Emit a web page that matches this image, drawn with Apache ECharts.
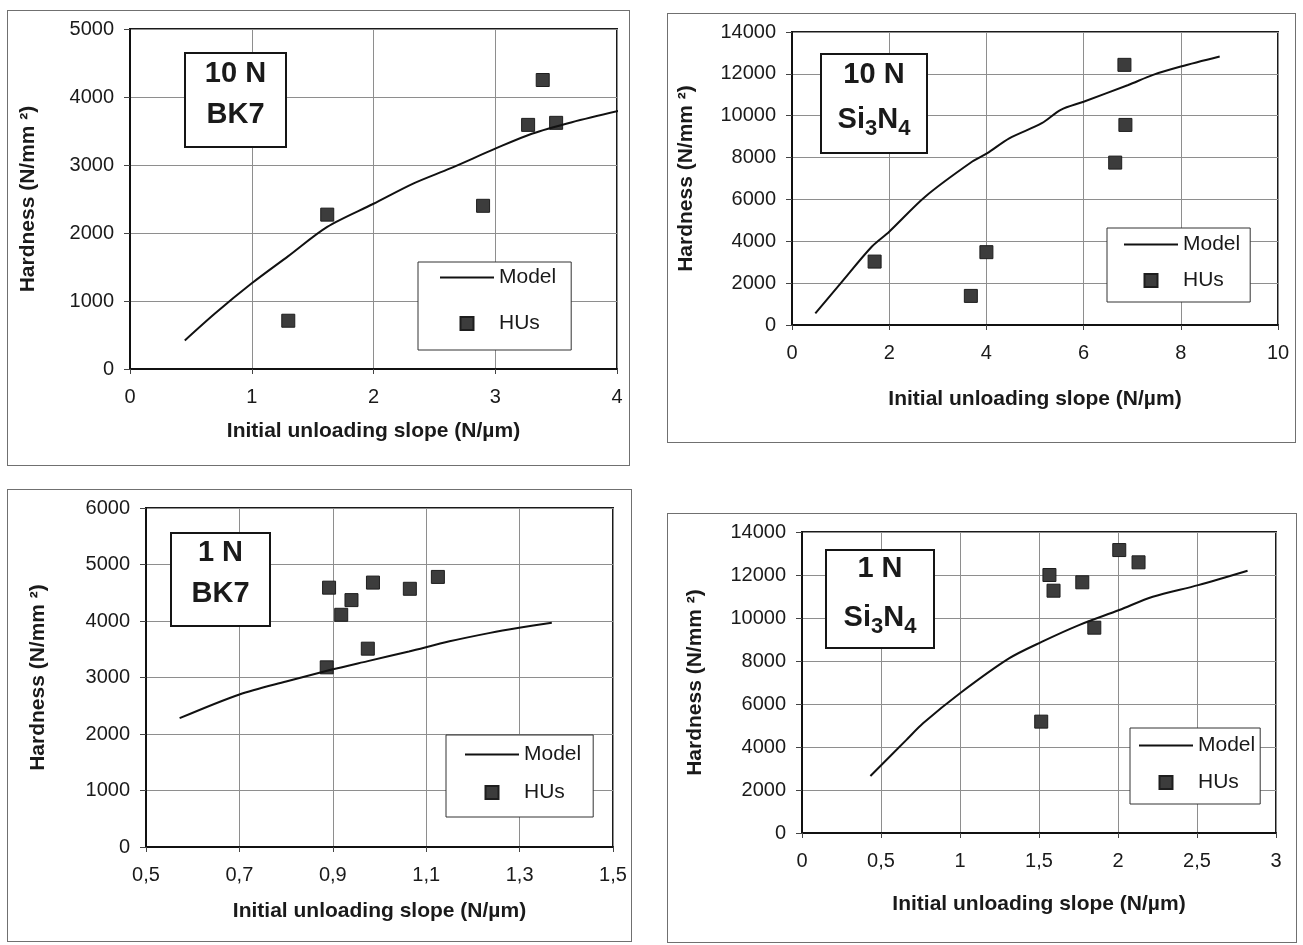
<!DOCTYPE html>
<html>
<head>
<meta charset="utf-8">
<script src="https://cdn.jsdelivr.net/npm/echarts@6/dist/echarts.min.js"></script>
<style>
  body { margin: 0; background: #fff; width: 1303px; height: 945px; position: relative; overflow: hidden; }
  .panel { position: absolute; border: 1px solid #707070; box-sizing: border-box; }
</style>
</head>
<body>
<div id="c1" class="panel" style="left:7px;top:10px;width:623px;height:456px"></div>
<div id="c2" class="panel" style="left:667px;top:13px;width:629px;height:430px"></div>
<div id="c3" class="panel" style="left:7px;top:489px;width:625px;height:453px"></div>
<div id="c4" class="panel" style="left:667px;top:513px;width:630px;height:430px"></div>
<script>
// 10 N, BK7
const bk7TenModel = [[0.45, 420], [0.7, 820], [1.0, 1260], [1.3, 1660], [1.62, 2090], [2.0, 2430], [2.33, 2730], [2.63, 2950], [3.0, 3240], [3.3, 3460], [3.63, 3630], [4.07, 3820]];
const bk7TenHUs = [[1.3, 710], [1.62, 2270], [2.9, 2400], [3.27, 3590], [3.39, 4250], [3.5, 3620]];
const bk7TenXTicks = [0, 1, 2, 3, 4];
const bk7TenYTicks = [0, 1000, 2000, 3000, 4000, 5000];

// 10 N, Si3N4
const siTenModel = [[0.48, 560], [1.0, 1990], [1.64, 3740], [2.0, 4460], [2.74, 6130], [3.71, 7810], [4.02, 8210], [4.47, 8920], [5.14, 9640], [5.53, 10280], [6.0, 10670], [6.92, 11470], [7.43, 11950], [8.0, 12350], [8.8, 12830]];
const siTenHUs = [[1.7, 3030], [3.68, 1390], [4.0, 3480], [6.65, 7760], [6.86, 9560], [6.84, 12430]];
const siTenXTicks = [0, 2, 4, 6, 8, 10];
const siTenYTicks = [0, 2000, 4000, 6000, 8000, 10000, 12000, 14000];

// 1 N, BK7
const bk7OneModel = [[0.572, 2280], [0.7, 2700], [0.8, 2930], [0.898, 3140], [0.975, 3290], [1.063, 3460], [1.15, 3640], [1.237, 3790], [1.299, 3880], [1.369, 3970]];
const bk7OneHUs = [[0.892, 4590], [0.918, 4110], [0.94, 4370], [0.986, 4680], [1.065, 4570], [1.125, 4780], [0.975, 3510], [0.887, 3180]];
const bk7OneXTicks = [0.5, 0.7, 0.9, 1.1, 1.3, 1.5];
const bk7OneYTicks = [0, 1000, 2000, 3000, 4000, 5000, 6000];

// 1 N, Si3N4
const siOneModel = [[0.433, 2650], [0.661, 4330], [0.766, 5100], [1.0, 6500], [1.31, 8120], [1.52, 8900], [1.753, 9670], [2.008, 10370], [2.22, 10990], [2.508, 11530], [2.82, 12200]];
const siOneHUs = [[1.514, 5180], [1.566, 12000], [1.592, 11270], [1.774, 11660], [1.85, 9550], [2.008, 13160], [2.13, 12590]];
const siOneXTicks = [0, 0.5, 1, 1.5, 2, 2.5, 3];
const siOneYTicks = [0, 2000, 4000, 6000, 8000, 10000, 12000, 14000];

const FONT = 'Liberation Sans, Arial, sans-serif';
const X_NAME = 'Initial unloading slope (N/µm)';
const Y_NAME = 'Hardness (N/mm ²)';
const SQUARE = 'path://M0,0H10V10H0Z';
const DASH = 'path://M0,0H54V2H0Z';

function decimalComma(v) {
    return String(+v.toFixed(6)).replace('.', ',');
}

function axisFromTicks(ticks) {
    return {
        min: ticks[0],
        max: ticks[ticks.length - 1],
        interval: +(ticks[1] - ticks[0]).toFixed(6)
    };
}

function titleBox(box, line1, line2Rich) {
    let second = line2Rich
        ? {
            type: 'text', x: box.w / 2, y: box.y2, z: 101,
            style: {
                text: '{a|Si}{b|3}{a|N}{b|4}',
                align: 'center', verticalAlign: 'middle', fill: '#1a1a1a',
                rich: {
                    a: { fontFamily: FONT, fontWeight: 'bold', fontSize: 29, lineHeight: 40, verticalAlign: 'middle', fill: '#1a1a1a' },
                    b: { fontFamily: FONT, fontWeight: 'bold', fontSize: 22, lineHeight: 22, verticalAlign: 'bottom', fill: '#1a1a1a' }
                }
            }
        }
        : {
            type: 'text', x: box.w / 2, y: box.y2, z: 101,
            style: { text: 'BK7', font: 'bold 29px ' + FONT, align: 'center', verticalAlign: 'middle', fill: '#1a1a1a' }
        };
    return {
        type: 'group', left: box.left, top: box.top, z: 100,
        children: [
            { type: 'rect', z: 100, shape: { x: 0, y: 0, width: box.w, height: box.h }, style: { fill: '#fff', stroke: '#151515', lineWidth: 2 } },
            { type: 'text', z: 101, x: box.w / 2, y: box.y1, style: { text: line1, font: 'bold 29px ' + FONT, align: 'center', verticalAlign: 'middle', fill: '#1a1a1a' } },
            second
        ]
    };
}

function buildOption(cfg) {
    let textColor = '#1a1a1a';
    return {
        animation: false,
        backgroundColor: '#fff',
        grid: {
            left: cfg.grid[0], top: cfg.grid[1], width: cfg.grid[2], height: cfg.grid[3],
            show: true, borderColor: '#1a1a1a', borderWidth: 2, backgroundColor: 'transparent'
        },
        xAxis: Object.assign({
            type: 'value',
            name: X_NAME, nameLocation: 'middle', nameGap: cfg.xNameGap,
            nameTextStyle: { fontFamily: FONT, fontWeight: 'bold', fontSize: 21, color: textColor },
            axisLine: { onZero: false, lineStyle: { color: '#111', width: 2 } },
            axisTick: { show: true, length: 5, lineStyle: { color: '#444' } },
            axisLabel: { fontFamily: FONT, fontSize: 20, color: textColor, margin: 18, formatter: decimalComma },
            splitLine: { lineStyle: { color: '#8e8e8e', width: 1 } }
        }, axisFromTicks(cfg.xTicks)),
        yAxis: Object.assign({
            type: 'value',
            name: Y_NAME, nameLocation: 'middle', nameGap: cfg.yNameGap,
            nameTextStyle: { fontFamily: FONT, fontWeight: 'bold', fontSize: 21, color: textColor },
            axisLine: { onZero: false, lineStyle: { color: '#111', width: 2 } },
            axisTick: { show: true, length: 6, lineStyle: { color: '#444' } },
            axisLabel: { fontFamily: FONT, fontSize: 20, color: textColor, margin: 16, formatter: (v) => String(v) },
            splitLine: { lineStyle: { color: '#8e8e8e', width: 1 } }
        }, axisFromTicks(cfg.yTicks)),
        legend: {
            left: cfg.legend.left, top: cfg.legend.top, orient: 'vertical',
            padding: cfg.legend.padding, itemGap: cfg.legend.gap,
            itemWidth: 54, itemHeight: 13, itemTextGap: 7,
            backgroundColor: '#fff', borderColor: '#333', borderWidth: 1,
            textStyle: { fontFamily: FONT, fontSize: 21, color: textColor },
            selectedMode: false,
            data: [{ name: 'Model', icon: DASH }, { name: 'HUs', icon: SQUARE }]
        },
        graphic: [titleBox(cfg.box, cfg.title1, cfg.rich)],
        series: [
            {
                name: 'Model', type: 'line', data: cfg.model, symbol: 'none', smooth: 0.3, clip: false,
                lineStyle: { color: '#111', width: 2 }, itemStyle: { color: '#111' }
            },
            {
                name: 'HUs', type: 'scatter', data: cfg.hus, symbol: 'rect', symbolSize: 13,
                itemStyle: { color: '#3c3c3c', borderColor: '#1e1e1e', borderWidth: 1, opacity: 1 }
            }
        ]
    };
}

const panels = [
    {
        id: 'c1', model: bk7TenModel, hus: bk7TenHUs, xTicks: bk7TenXTicks, yTicks: bk7TenYTicks,
        grid: [122, 18, 487, 340], xNameGap: 52, yNameGap: 91,
        legend: { left: 410, top: 251, padding: [5, 15, 16, 22], gap: 25 },
        box: { left: 176, top: 41, w: 101, h: 94, y1: 21, y2: 62 }, title1: '10 N', rich: false
    },
    {
        id: 'c2', model: siTenModel, hus: siTenHUs, xTicks: siTenXTicks, yTicks: siTenYTicks,
        grid: [124, 18, 486, 293], xNameGap: 64, yNameGap: 95,
        legend: { left: 439, top: 214, padding: [6, 10, 11, 17], gap: 15 },
        box: { left: 152, top: 39, w: 106, h: 99, y1: 21, y2: 66 }, title1: '10 N', rich: true
    },
    {
        id: 'c3', model: bk7OneModel, hus: bk7OneHUs, xTicks: bk7OneXTicks, yTicks: bk7OneYTicks,
        grid: [138, 18, 467, 339], xNameGap: 54, yNameGap: 97,
        legend: { left: 438, top: 245, padding: [9, 12, 14, 19], gap: 17 },
        box: { left: 162, top: 42, w: 99, h: 93, y1: 20, y2: 61 }, title1: '1 N', rich: false
    },
    {
        id: 'c4', model: siOneModel, hus: siOneHUs, xTicks: siOneXTicks, yTicks: siOneYTicks,
        grid: [134, 18, 474, 301], xNameGap: 61, yNameGap: 96,
        legend: { left: 462, top: 214, padding: [7, 5, 11, 9], gap: 16 },
        box: { left: 157, top: 35, w: 108, h: 98, y1: 19, y2: 68 }, title1: '1 N', rich: true
    }
];

panels.forEach((cfg) => {
    let chart = echarts.init(document.getElementById(cfg.id), null, { renderer: 'canvas' });
    chart.setOption(buildOption(cfg));
});
</script>
</body>
</html>
